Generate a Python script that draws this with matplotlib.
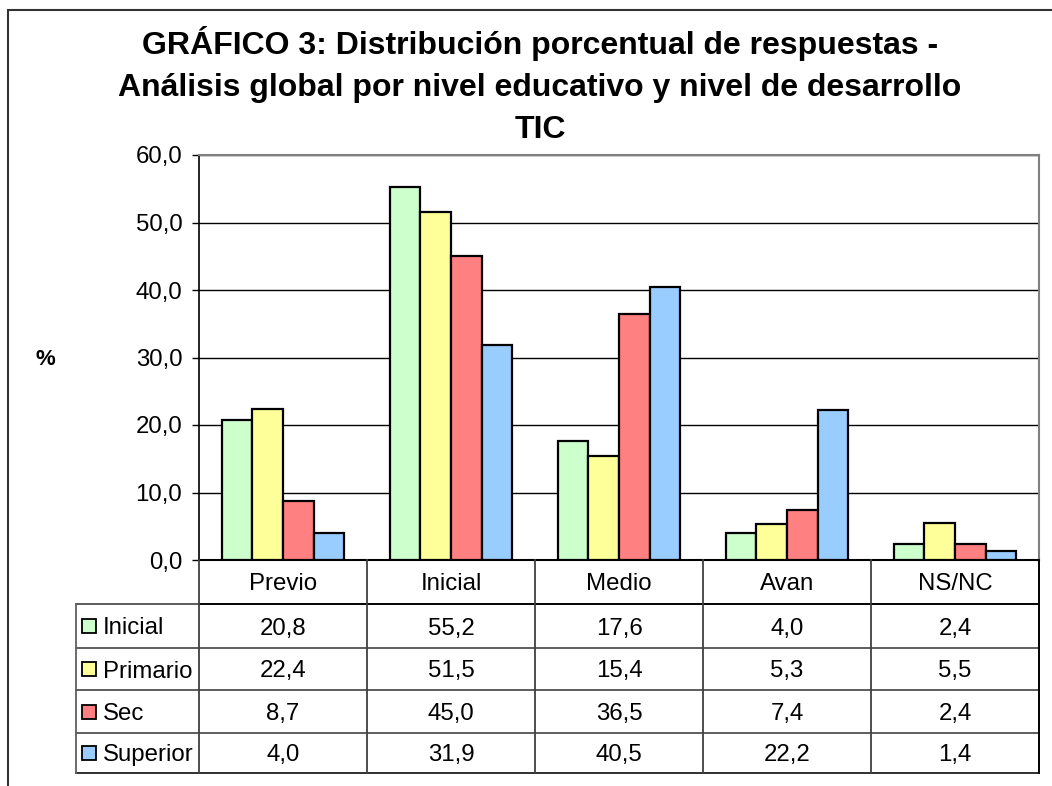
import matplotlib
matplotlib.use("Agg")
import matplotlib.pyplot as plt
from matplotlib.lines import Line2D
from matplotlib.patches import Rectangle
import numpy as np

plt.rcParams['font.family'] = ['Liberation Sans', 'DejaVu Sans']

categories = ["Previo", "Inicial", "Medio", "Avan", "NS/NC"]
series_names = ["Inicial", "Primario", "Sec", "Superior"]
inicial = [20.8, 55.2, 17.6, 4.0, 2.4]
primario = [22.4, 51.5, 15.4, 5.3, 5.5]
sec = [8.7, 45.0, 36.5, 7.4, 2.4]
superior = [4.0, 31.9, 40.5, 22.2, 1.4]
series_values = [inicial, primario, sec, superior]
colors = ["#CCFFCC", "#FFFF99", "#FF8080", "#99CCFF"]
yticks = [0, 10, 20, 30, 40, 50, 60]
title_lines = ["GRÁFICO 3: Distribución porcentual de respuestas -",
               "Análisis global por nivel educativo y nivel de desarrollo",
               "TIC"]

W, H = 1052, 786
fig = plt.figure(figsize=(W / 100, H / 100), dpi=100)
FS = 17.3

def fx(px):
    return px / W

def fy(py):
    return 1 - py / H

# plot area in pixels
L, R, T, B = 199, 1039, 155, 560
ax = fig.add_axes([fx(L), fy(B), fx(R) - fx(L), fy(T) - fy(B)])
ax.set_xlim(-0.5, len(categories) - 0.5)
ax.set_ylim(0, 60)

w = 0.183
x = np.arange(len(categories))
for i, (vals, c) in enumerate(zip(series_values, colors)):
    ax.bar(x + (i - 1.5) * w, vals, width=w, color=c, edgecolor="black",
           linewidth=1.6, zorder=3)

ax.set_yticks(yticks)
ax.set_yticklabels([f"{v:.1f}".replace(".", ",") for v in yticks], fontsize=FS)
ax.yaxis.grid(True, color="black", linewidth=1.0, zorder=0)
ax.set_xticks([])
ax.tick_params(axis="y", length=5, width=1, color="black", pad=7)
for s in ["top", "right"]:
    ax.spines[s].set_color("#808080")
    ax.spines[s].set_linewidth(1.5)
ax.spines["left"].set_color("black")
ax.spines["left"].set_linewidth(1.2)
ax.spines["bottom"].set_color("black")
ax.spines["bottom"].set_linewidth(1.5)

# title
for line, base in zip(title_lines, [54, 96, 138]):
    fig.text(fx(540), fy(base), line, ha="center", va="baseline",
             fontsize=23, fontweight="bold")

fig.text(fx(45), fy(357), "%", ha="center", va="center_baseline", fontsize=16,
         fontweight="bold")

# figure border
fig.add_artist(Rectangle((fx(8), fy(1000)), fx(2000), fy(10) - fy(1000),
                         fill=False, edgecolor="#333333", linewidth=1.5,
                         transform=fig.transFigure))

# data table
row_edges = [560, 604, 648, 690, 733, 773]
col_edges = [199, 367, 535, 703, 871, 1039]
tleft = 76

def hline(y, x0, x1, color="#404040", lw=1.3):
    fig.add_artist(Line2D([fx(x0), fx(x1)], [fy(y), fy(y)], color=color,
                          linewidth=lw, transform=fig.transFigure))

def vline(xp, y0, y1, color="#404040", lw=1.3):
    fig.add_artist(Line2D([fx(xp), fx(xp)], [fy(y0), fy(y1)], color=color,
                          linewidth=lw, transform=fig.transFigure))

for y in row_edges[1:-1]:
    hline(y, tleft, col_edges[-1], color="#505050")
hline(row_edges[-1], tleft, col_edges[-1], color="#202020")
hline(row_edges[1], col_edges[0], col_edges[-1], color="black")
for xc in col_edges:
    vline(xc, row_edges[0], row_edges[-1], color="#404040")
vline(col_edges[-1], row_edges[0], row_edges[-1], color="black")
vline(tleft, row_edges[1], row_edges[-1], color="#606060")

for j, cat in enumerate(categories):
    cx = (col_edges[j] + col_edges[j + 1]) / 2
    cy = (row_edges[0] + row_edges[1]) / 2
    fig.text(fx(cx), fy(cy), cat, ha="center", va="center_baseline", fontsize=FS)

for i, (name, vals, c) in enumerate(zip(series_names, series_values, colors)):
    cy = (row_edges[i + 1] + row_edges[i + 2]) / 2
    fig.add_artist(Rectangle((fx(82), fy(cy + 7)), fx(14), fy(cy - 7) - fy(cy + 7),
                             facecolor=c, edgecolor="black", linewidth=1.3,
                             transform=fig.transFigure))
    fig.text(fx(103), fy(cy), name, ha="left", va="center_baseline", fontsize=FS)
    for j, v in enumerate(vals):
        cx = (col_edges[j] + col_edges[j + 1]) / 2
        fig.text(fx(cx), fy(cy), f"{v:.1f}".replace(".", ","), ha="center",
                 va="center_baseline", fontsize=FS)

fig.savefig("out.png", dpi=100)
